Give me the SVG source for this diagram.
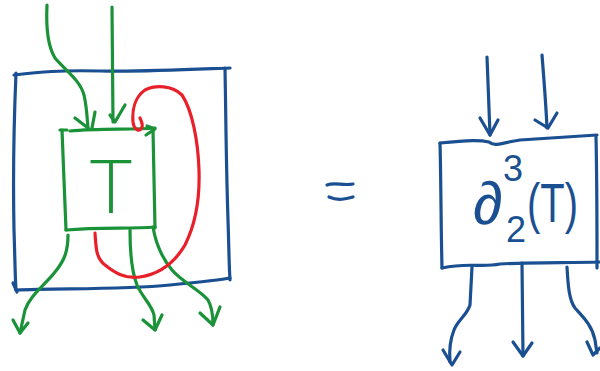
<svg xmlns="http://www.w3.org/2000/svg" width="600" height="371" viewBox="0 0 600 371">
<style>
.s{fill:none;stroke-width:3.2;stroke-linecap:round;stroke-linejoin:round}
.b{stroke:#1a5091}
.g{stroke:#1a9238}
.r{stroke:#e8202a}
.tb{fill:#1a5091;font-family:"Liberation Sans","DejaVu Sans",sans-serif}
.tg{fill:#1a9238;font-family:Lato,"Liberation Sans",sans-serif;font-weight:300}
</style>
<rect width="600" height="371" fill="#fff"/>
<g id="outer-box">
<path class="s b" d="M14,75 C40,72 60,70 100,71 C140,72 180,70 230,68"/>
<path class="s b" d="M16,73 C14,120 13,180 14,230 C15,260 15,275 16,290"/>
<path class="s b" d="M225,68 C226,120 226,160 228,220 C229,250 229,265 230,280"/>
<path class="s b" d="M16,290 C60,288 120,290 170,285 C200,282 220,280 230,278"/>
<path class="s b" d="M13,283 L17,292"/>
</g>
<g id="node-T">
<path class="s g" d="M62,130 L66,230"/>
<path class="s g" d="M60,130 L67,130"/>
<path class="s g" d="M70,131 C100,128 130,130 155,128"/>
<path class="s g" d="M153,130 L155,228"/>
<path class="s g" d="M66,230 C100,227 130,229 155,227"/>
<path class="s g" d="M147,126 L155,129 L146,135"/>
<text class="tg" x="111" y="213" font-size="74" text-anchor="middle">T</text>
</g>
<g id="equals">
<path class="s b" d="M327,185 C335,182 343,186 353,184"/>
<path class="s b" d="M329,197 C338,201 346,199 353,197"/>
</g>
<g id="node-d23T">
<path class="s b" d="M440,143 C470,140 480,140 489,142 C495,147 500,143 520,140 L597,135"/>
<path class="s b" d="M440,143 C441,180 441,230 442,268"/>
<path class="s b" d="M596,137 C597,180 597,230 597,268"/>
<path class="s b" d="M442,268 C470,262 480,268 500,264 C530,262 570,263 600,262"/>
<text class="tb" x="473" y="224" font-size="60">∂</text>
<text class="tb" x="503" y="181" font-size="36">3</text>
<text class="tb" x="506" y="242" font-size="36">2</text>
<text class="tb" x="527" y="222" font-size="56" textLength="51" lengthAdjust="spacingAndGlyphs">(T)</text>
</g>
<g id="connectors">
<path class="s g" d="M47,5 C46,25 47,45 55,58 C65,70 80,80 84,95 C87,108 87,118 88,128"/>
<path class="s g" d="M75,118 L88,128 M95,112 L92,128"/>
<path class="s g" d="M112,7 L113,122"/>
<path class="s g" d="M110,115 L115,122 L125,105"/>
<path class="s g" d="M68,235 C68,250 65,260 55,272 C45,285 30,295 25,310 L20,333"/>
<path class="s g" d="M13,320 L20,333 L28,323"/>
<path class="s g" d="M130,230 C130,250 131,270 137,285 C142,297 152,305 154,315 L155,330"/>
<path class="s g" d="M143,320 L155,330 L162,315"/>
<path class="s g" d="M153,227 C156,245 162,258 172,270 C182,282 200,290 208,300 C212,307 213,315 213,325"/>
<path class="s g" d="M200,313 L213,325 L220,307"/>
<path class="s r" d="M95,233 C96,248 96,258 105,265 C115,273 125,279 140,277 C160,274 175,262 185,245 C195,225 200,200 199,170 C198,140 192,110 182,95 C172,85 155,85 145,90 C135,97 132,110 133,122 C134,130 140,133 142,127 C143,124 141,120 140,118"/>
<path class="s b" d="M487,57 C488,80 489,110 490,135"/>
<path class="s b" d="M480,118 L490,135 L498,120"/>
<path class="s b" d="M542,55 C544,80 546,105 547,128"/>
<path class="s b" d="M535,120 L548,128 L557,113"/>
<path class="s b" d="M472,267 L470,305 C467,315 458,320 454,330 C450,340 449,350 450,362"/>
<path class="s b" d="M443,350 L452,365 L460,352"/>
<path class="s b" d="M522,263 L523,356"/>
<path class="s b" d="M513,342 L523,356 L532,343"/>
<path class="s b" d="M567,267 C568,285 569,300 575,308 C583,317 592,325 595,340 L597,353"/>
<path class="s b" d="M587,342 L593,355 L600,348"/>
</g>
</svg>
